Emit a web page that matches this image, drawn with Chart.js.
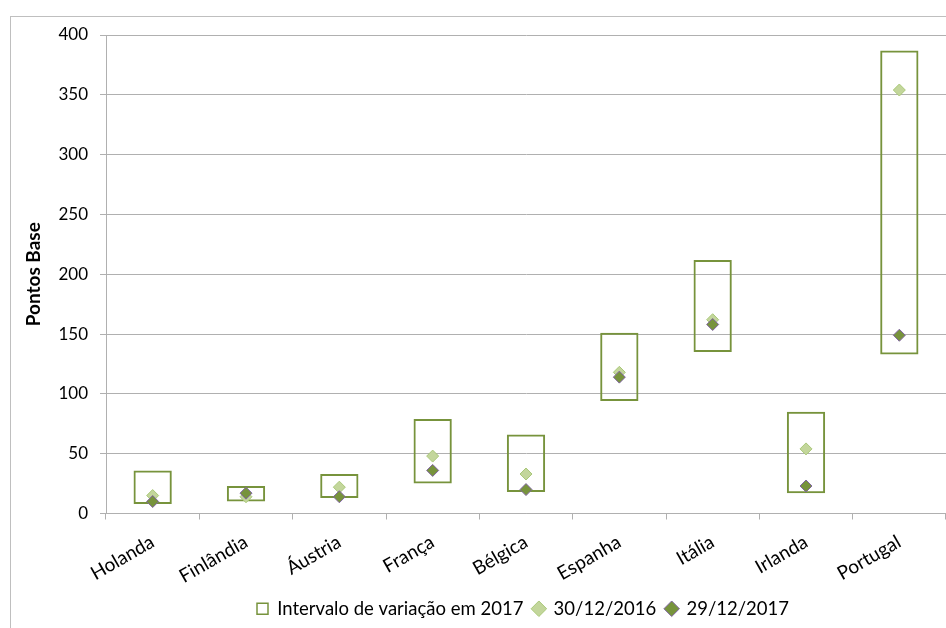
<!DOCTYPE html>
<html>
<head>
<meta charset="utf-8">
<script src="https://cdn.jsdelivr.net/npm/chart.js@4"></script>
<style>
  html, body { margin: 0; padding: 0; background: #fff; }
  #wrap { position: relative; width: 946px; height: 628px; overflow: hidden; }
  #frame { position: absolute; left: 10px; top: 16px; width: 1000px; height: 1000px;
           border-left: 1px solid #bfbfbf; border-top: 1px solid #bfbfbf; }
  #chart { position: absolute; left: 0; top: 0; }
</style>
</head>
<body>
<div id="wrap">
  <div id="frame"></div>
  <canvas id="chart" width="946" height="628"></canvas>
</div>
<script>
const paises = ['Holanda', 'Finlândia', 'Áustria', 'França', 'Bélgica', 'Espanha', 'Itália', 'Irlanda', 'Portugal'];
const minimo2017 = [8, 10, 13, 25, 18, 94, 135, 17, 133];
const maximo2017 = [36, 23, 33, 79, 66, 151, 212, 85, 387];
const valores2016 = [15, 14, 22, 48, 33, 118, 162, 54, 354];
const valores2017 = [10, 17, 14, 36, 20, 114, 158, 23, 149];
const yTicks = [0, 50, 100, 150, 200, 250, 300, 350, 400];

const verde = '#77933c';
const verdeClaro = '#c3d69b';
const FONTE = 'Lato, "Open Sans", sans-serif';

const intervalos = paises.map((p, i) => [minimo2017[i], maximo2017[i]]);

// o gráfico original é mais largo que o recorte: a legenda fica desviada para a direita
const deslocaLegenda = {
  id: 'deslocaLegenda',
  afterLayout(chart) {
    if (chart.legend) chart.legend.left += 100;
  }
};

new Chart(document.getElementById('chart'), {
  type: 'bar',
  data: {
    labels: paises,
    datasets: [
      {
        type: 'line',
        label: '29/12/2017',
        data: valores2017,
        showLine: false,
        pointStyle: 'rectRot',
        pointRadius: 6,
        pointBorderWidth: 1,
        pointBackgroundColor: verde,
        pointBorderColor: '#8064a2',
        order: 1
      },
      {
        type: 'line',
        label: '30/12/2016',
        data: valores2016,
        showLine: false,
        pointStyle: 'rectRot',
        pointRadius: 6,
        pointBorderWidth: 1,
        pointBackgroundColor: verdeClaro,
        pointBorderColor: '#a9c878',
        order: 2
      },
      {
        label: 'Intervalo de variação em 2017',
        data: intervalos,
        backgroundColor: 'rgba(255,255,255,0)',
        borderColor: verde,
        borderWidth: 2,
        borderSkipped: false,
        categoryPercentage: 1,
        barPercentage: 0.41,
        order: 3
      }
    ]
  },
  options: {
    responsive: false,
    animation: false,
    layout: { autoPadding: false, padding: { top: 35, left: 0, right: 0, bottom: 0 } },
    scales: {
      x: {
        offset: true,
        grid: {
          offset: true,
          drawOnChartArea: false,
          drawTicks: true,
          tickLength: 6,
          color: '#b0b0b0'
        },
        border: { color: '#b0b0b0' },
        ticks: {
          autoSkip: false,
          minRotation: 30,
          maxRotation: 30,
          padding: 11,
          color: '#000',
          font: { family: FONTE, size: 19 }
        },
        afterFit: function(scale) {
          scale.height = 76;
          scale.paddingLeft = 0;
          scale.paddingRight = 0;
        }
      },
      y: {
        min: 0,
        max: 400,
        afterBuildTicks: function(scale) {
          scale.ticks = yTicks.map(v => ({ value: v }));
        },
        grid: { color: '#b0b0b0', tickLength: 6 },
        border: { color: '#b0b0b0' },
        ticks: {
          padding: 12,
          color: '#000',
          font: { family: FONTE, size: 17 }
        },
        title: {
          display: true,
          text: 'Pontos Base',
          color: '#000',
          padding: { top: 22, bottom: 0 },
          font: { family: FONTE, size: 19, weight: 'bold' }
        },
        afterFit: function(scale) { scale.width = 106; }
      }
    },
    plugins: {
      tooltip: { enabled: false },
      legend: {
        position: 'bottom',
        labels: {
          usePointStyle: true,
          boxWidth: 11,
          boxHeight: 11,
          padding: 10,
          color: '#000',
          font: { family: FONTE, size: 18.5 },
          generateLabels: function(chart) {
            return [
              { text: 'Intervalo de variação em 2017', pointStyle: 'rect', fillStyle: '#fff', strokeStyle: verde, lineWidth: 1.5, datasetIndex: 2 },
              { text: '30/12/2016', pointStyle: 'rectRot', fillStyle: verdeClaro, strokeStyle: '#a9c878', lineWidth: 1, datasetIndex: 1 },
              { text: '29/12/2017', pointStyle: 'rectRot', fillStyle: verde, strokeStyle: '#8064a2', lineWidth: 1, datasetIndex: 0 }
            ];
          }
        }
      }
    }
  },
  plugins: [deslocaLegenda]
});
</script>
</body>
</html>
